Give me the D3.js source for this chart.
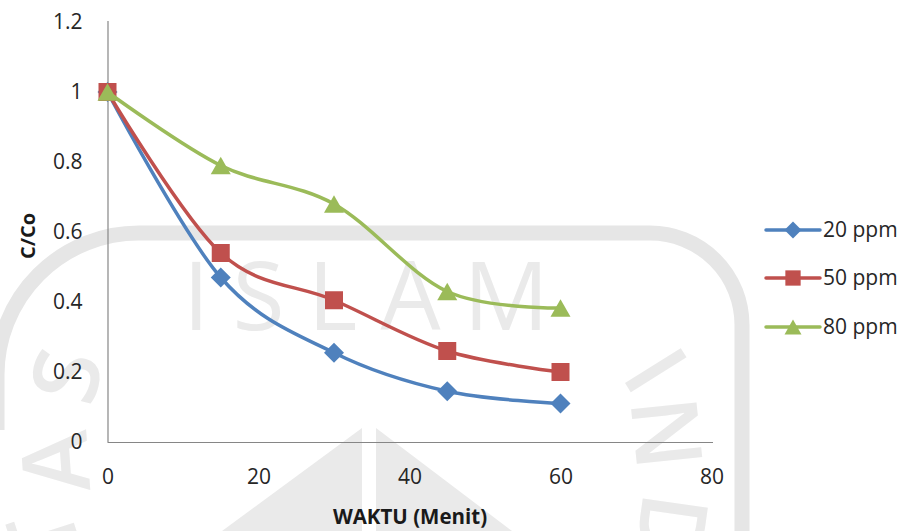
<!DOCTYPE html>
<html>
<head>
<meta charset="utf-8">
<script src="https://cdn.jsdelivr.net/npm/d3@7"></script>
<style>
  html, body { margin: 0; padding: 0; background: #fff; }
  svg { display: block; }
</style>
</head>
<body>
<svg id="chart" width="910" height="531"></svg>
<script>
// Sampling times (minutes) and C/Co ratios per initial concentration
const times = [0, 15, 30, 45, 60];
const ppm20 = [1, 0.47, 0.255, 0.145, 0.11];
const ppm50 = [1, 0.54, 0.405, 0.26, 0.2];
const ppm80 = [1, 0.79, 0.68, 0.43, 0.383];
const seriesNames = ["20 ppm", "50 ppm", "80 ppm"];
const xTicks = [0, 20, 40, 60, 80];
const yTicks = [0, 0.2, 0.4, 0.6, 0.8, 1, 1.2];
const xTitle = "WAKTU (Menit)";
const yTitle = "C/Co";

const colors = ["#4F81BD", "#C0504D", "#9BBB59"];
const shapes = ["diamond", "square", "triangle"];
const seriesValues = [ppm20, ppm50, ppm80];

const svg = d3.select("#chart");
const font = "'Open Sans', 'Liberation Sans', sans-serif";

// ---- faint background logo ----
const wm = svg.append("g").attr("fill", "#eaeaea").attr("stroke", "none");
wm.append("path")
  .attr("d", "M -3,430 L -3,375 A 142 142 0 0 1 139,233 L 650,233 A 92 92 0 0 1 742,325 L 742,545")
  .attr("fill", "none").attr("stroke", "#e6e6e6").attr("stroke-width", 15);
wm.append("text")
  .attr("x", 183).attr("y", 330)
  .attr("font-family", font).attr("font-size", 95).attr("font-weight", 400)
  .attr("textLength", 366).attr("lengthAdjust", "spacing")
  .text("ISLAM");
// letters set around the ring
const ringLetters = [
  { ch: "S", x: 66, y: 376, r: -76 },
  { ch: "A", x: 55, y: 462, r: -94 },
  { ch: "T", x: 44, y: 538, r: -108 },
  { ch: "I", x: 656, y: 370, r: 58 },
  { ch: "N", x: 667, y: 433, r: 84 },
  { ch: "D", x: 672, y: 528, r: 98 }
];
ringLetters.forEach(l => {
  wm.append("text")
    .attr("transform", `translate(${l.x},${l.y}) rotate(${l.r})`)
    .attr("text-anchor", "middle")
    .attr("dy", "0.36em")
    .attr("font-family", font).attr("font-size", 92).attr("font-weight", 600)
    .text(l.ch);
});
wm.append("path").attr("d", "M 362,428 L 362,531 L 222,531 Z");
wm.append("path").attr("d", "M 376,428 L 512,531 L 376,531 Z");

// ---- scales ----
const x = d3.scaleLinear().domain([0, 80]).range([107.5, 711.5]);
const y = d3.scaleLinear().domain([0, 1.2]).range([442, 22]);

// ---- axes ----
const xAxis = svg.append("g").attr("transform", `translate(0,${y(0)})`)
  .call(d3.axisBottom(x).tickValues(xTicks).tickSize(0).tickPadding(27).tickFormat(d3.format("d")));
xAxis.select(".domain").attr("stroke", "#868686").attr("stroke-width", 1.2)
  .attr("d", `M${x(0)},0.5H${x(80) + 1.5}`);
xAxis.selectAll("text").attr("font-family", font).attr("font-size", 21).attr("fill", "#262626");

const yAxis = svg.append("g").attr("transform", `translate(${x(0)},0)`)
  .call(d3.axisLeft(y).tickValues(yTicks).tickSize(0).tickPadding(25).tickFormat(d3.format("~g")));
yAxis.select(".domain").attr("stroke", "#868686").attr("stroke-width", 1.2)
  .attr("d", `M0.5,${y(1.2) - 1}V${y(0)}`);
yAxis.selectAll("text").attr("font-family", font).attr("font-size", 21).attr("fill", "#262626");

// Axis titles
svg.append("text")
  .attr("x", 410).attr("y", 524)
  .attr("text-anchor", "middle")
  .attr("font-family", font).attr("font-size", 20.5).attr("font-weight", 700).attr("fill", "#1a1a1a")
  .text(xTitle);
svg.append("text")
  .attr("transform", `translate(35,${236}) rotate(-90)`)
  .attr("text-anchor", "middle")
  .attr("font-family", font).attr("font-size", 20).attr("font-weight", 700).attr("fill", "#1a1a1a")
  .text(yTitle);

// ---- marker helper ----
function marker(g, shape, cx, cy, s, color) {
  if (shape === "diamond") {
    g.append("path").attr("d", `M${cx},${cy - s / 2}L${cx + s / 2},${cy}L${cx},${cy + s / 2}L${cx - s / 2},${cy}Z`)
      .attr("fill", color);
  } else if (shape === "square") {
    const w = s * 0.9;
    g.append("rect").attr("x", cx - w / 2).attr("y", cy - w / 2).attr("width", w).attr("height", w)
      .attr("fill", color);
  } else {
    const w = s, h = s * 0.88;
    g.append("path").attr("d", `M${cx},${cy - h / 2}L${cx + w / 2},${cy + h / 2}L${cx - w / 2},${cy + h / 2}Z`)
      .attr("fill", color);
  }
}

// ---- series ----
const line = d3.line()
  .x(d => x(d[0]))
  .y(d => y(d[1]))
  .curve(d3.curveCatmullRom.alpha(0));

seriesValues.forEach((vals, i) => {
  const pts = times.map((t, k) => [t, vals[k]]);
  const g = svg.append("g");
  g.append("path").datum(pts)
    .attr("d", line)
    .attr("fill", "none")
    .attr("stroke", colors[i])
    .attr("stroke-width", 3.5)
    .attr("stroke-linejoin", "round")
    .attr("stroke-linecap", "round");
  pts.forEach(p => marker(g, shapes[i], x(p[0]), y(p[1]), 20, colors[i]));
});

// ---- legend ----
const legendY = [230, 278, 327];
seriesNames.forEach((name, i) => {
  const g = svg.append("g");
  g.append("line")
    .attr("x1", 766).attr("x2", 820)
    .attr("y1", legendY[i]).attr("y2", legendY[i])
    .attr("stroke", colors[i]).attr("stroke-width", 3.5).attr("stroke-linecap", "round");
  marker(g, shapes[i], 793, legendY[i], 17, colors[i]);
  g.append("text")
    .attr("x", 823).attr("y", legendY[i])
    .attr("dy", "0.35em")
    .attr("font-family", font).attr("font-size", 21).attr("fill", "#262626")
    .text(name);
});
</script>
</body>
</html>
